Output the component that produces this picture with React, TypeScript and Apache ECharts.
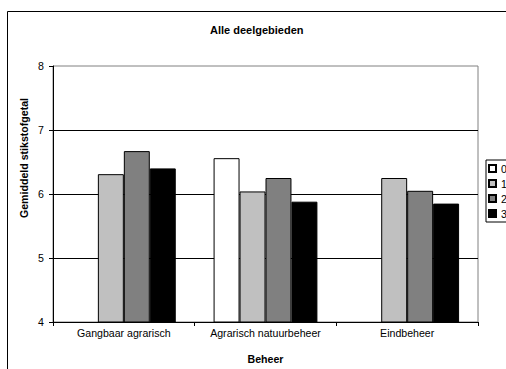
import React, { useEffect, useRef } from "react";
import * as echarts from "echarts";

const categories = ["Gangbaar agrarisch", "Agrarisch natuurbeheer", "Eindbeheer"];
const seriesNames = ["0", "1", "2", "3"];
const values0: (number | null)[] = [null, 6.56, null];
const values1: (number | null)[] = [6.31, 6.04, 6.25];
const values2: (number | null)[] = [6.67, 6.25, 6.05];
const values3: (number | null)[] = [6.4, 5.88, 5.85];
const barColors = ["#ffffff", "#c0c0c0", "#808080", "#000000"];
const yTicks = [4, 5, 6, 7, 8];

const FONT = "'Liberation Sans', Arial, Helvetica, sans-serif";

export default function App() {
  const ref = useRef<HTMLDivElement>(null);

  useEffect(() => {
    if (!ref.current) return;
    const chart = echarts.init(ref.current, null, { renderer: "svg" });
    const allValues = [values0, values1, values2, values3];

    chart.setOption({
      animation: false,
      backgroundColor: "#ffffff",
      textStyle: { fontFamily: FONT },
      title: {
        text: "Alle deelgebieden",
        left: 210,
        top: 24,
        padding: 0,
        textStyle: { fontSize: 11, fontWeight: "bold", color: "#000", fontFamily: FONT },
      },
      legend: {
        orient: "vertical",
        left: 486,
        top: 160,
        padding: [3, 3, 3, 2],
        itemGap: 4,
        itemWidth: 7,
        itemHeight: 7,
        icon: "rect",
        borderColor: "#000",
        borderWidth: 1,
        data: seriesNames,
        textStyle: { fontSize: 10.6, color: "#000", fontFamily: FONT },
      },
      grid: {
        left: 53,
        right: 28,
        top: 66,
        bottom: 46,
        show: true,
        borderColor: "#808080",
        borderWidth: 1,
        backgroundColor: "#ffffff",
      },
      xAxis: {
        type: "category",
        data: categories,
        name: "Beheer",
        nameLocation: "middle",
        nameGap: 31,
        nameTextStyle: { fontSize: 10.6, fontWeight: "bold", color: "#000", fontFamily: FONT },
        axisLine: { lineStyle: { color: "#000", width: 1 } },
        axisTick: { show: true, length: 4, lineStyle: { color: "#000" } },
        axisLabel: { interval: 0, margin: 5, fontSize: 10.6, color: "#000", fontFamily: FONT },
      },
      yAxis: {
        type: "value",
        min: yTicks[0],
        max: yTicks[yTicks.length - 1],
        interval: 1,
        axisLine: { show: true, lineStyle: { color: "#000", width: 1 } },
        axisTick: { show: true, length: 4, lineStyle: { color: "#000" } },
        axisLabel: { margin: 9, fontSize: 10.6, color: "#000", fontFamily: FONT },
        splitLine: {
          show: true,
          showMinLine: false,
          showMaxLine: false,
          lineStyle: { color: "#000", width: 1 },
        },
      },
      series: seriesNames.map((name, i) => ({
        name,
        type: "bar",
        data: allValues[i],
        barGap: "0%",
        barCategoryGap: "26.7%",
        itemStyle: { color: barColors[i], borderColor: "#000", borderWidth: 1 },
      })),
      graphic: [
        {
          type: "rect",
          silent: true,
          z: 100,
          shape: { x: 7.5, y: 11.5, width: 700, height: 700 },
          style: { fill: "none", stroke: "#000", lineWidth: 1 },
        },
        {
          type: "text",
          x: 24,
          y: 158,
          rotation: Math.PI / 2,
          style: {
            text: "Gemiddeld stikstofgetal",
            fontSize: 10.6,
            fontWeight: "bold",
            fontFamily: FONT,
            fill: "#000",
            textAlign: "center",
            textVerticalAlign: "middle",
          },
        },
      ],
    });

    return () => chart.dispose();
  }, []);

  return <div ref={ref} style={{ width: 506, height: 369, position: "absolute", left: 0, top: 0 }} />;
}
